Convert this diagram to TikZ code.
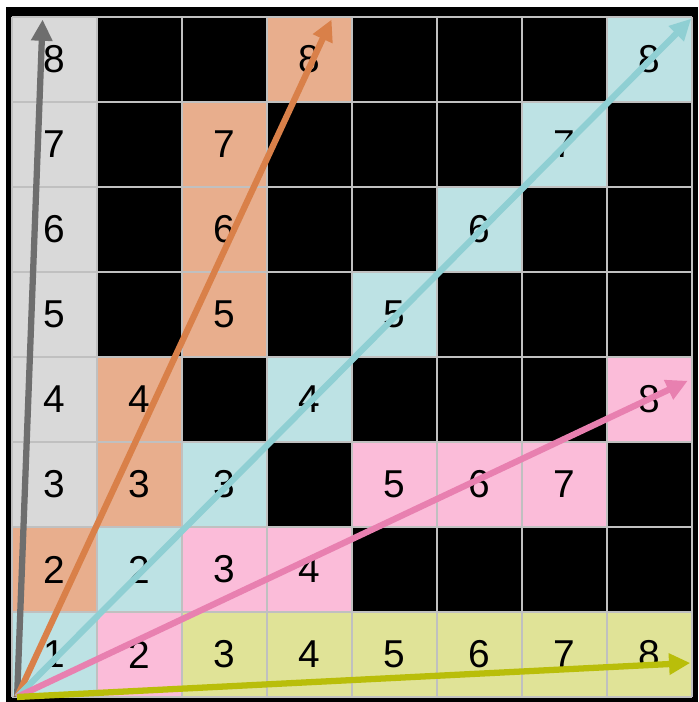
\documentclass[tikz,border=0pt]{standalone}
\usepackage{fontspec}
\setmainfont{Liberation Sans}
\usetikzlibrary{arrows.meta}

\definecolor{cellgray}{HTML}{D9D9D9}
\definecolor{cellorange}{HTML}{E8AE8D}
\definecolor{cellcyan}{HTML}{BDE2E4}
\definecolor{cellpink}{HTML}{FBBCD9}
\definecolor{cellyellow}{HTML}{E0E397}
\definecolor{arrgray}{HTML}{6E6E6E}
\definecolor{arrorange}{HTML}{D98049}
\definecolor{arrcyan}{HTML}{8FCFD3}
\definecolor{arrpink}{HTML}{E880B0}
\definecolor{arrolive}{HTML}{B9BE0A}
\definecolor{gridgray}{HTML}{C0C0C0}

\begin{document}
\begin{tikzpicture}[
    cell/.style={
        rectangle, minimum size=1cm, inner sep=0pt,
        font=\fontsize{13}{15}\selectfont, text=black
    },
    gridline/.style={draw=gridgray, line width=0.8pt},
    arr/.style={-{Triangle[length=0.25cm, width=0.24cm]}, line width=2.1pt}
]

%% ---- Frame and bounding box ----
\fill[white] (-0.141,-0.059) rectangle (8.071,8.2);
\useasboundingbox (-0.141,-0.059) rectangle (8.071,8.2);
\fill[black] (-0.071,-0.059) rectangle (8.071,8.118);

%% ---- Coloured cells at explicit (x,y) positions ----

% Gray column (x=0.5)
\node[cell, fill=cellgray]   at (0.5, 2.5) (g3) {3};
\node[cell, fill=cellgray]   at (0.5, 3.5) (g4) {4};
\node[cell, fill=cellgray]   at (0.5, 4.5) (g5) {5};
\node[cell, fill=cellgray]   at (0.5, 5.5) (g6) {6};
\node[cell, fill=cellgray]   at (0.5, 6.5) (g7) {7};
\node[cell, fill=cellgray]   at (0.5, 7.5) (g8) {8};

% Orange steps
\node[cell, fill=cellorange] at (0.5, 1.5) (o2) {2};
\node[cell, fill=cellorange] at (1.5, 2.5) (o3) {3};
\node[cell, fill=cellorange] at (1.5, 3.5) (o4) {4};
\node[cell, fill=cellorange] at (2.5, 4.5) (o5) {5};
\node[cell, fill=cellorange] at (2.5, 5.5) (o6) {6};
\node[cell, fill=cellorange] at (2.5, 6.5) (o7) {7};
\node[cell, fill=cellorange] at (3.5, 7.5) (o8) {8};

% Cyan diagonal
\node[cell, fill=cellcyan]   at (0.5, 0.5) (c1) {1};
\node[cell, fill=cellcyan]   at (1.5, 1.5) (c2) {2};
\node[cell, fill=cellcyan]   at (2.5, 2.5) (c3) {3};
\node[cell, fill=cellcyan]   at (3.5, 3.5) (c4) {4};
\node[cell, fill=cellcyan]   at (4.5, 4.5) (c5) {5};
\node[cell, fill=cellcyan]   at (5.5, 5.5) (c6) {6};
\node[cell, fill=cellcyan]   at (6.5, 6.5) (c7) {7};
\node[cell, fill=cellcyan]   at (7.5, 7.5) (c8) {8};

% Pink steps
\node[cell, fill=cellpink]   at (1.5, 0.5) (p2) {2};
\node[cell, fill=cellpink]   at (2.5, 1.5) (p3) {3};
\node[cell, fill=cellpink]   at (3.5, 1.5) (p4) {4};
\node[cell, fill=cellpink]   at (4.5, 2.5) (p5) {5};
\node[cell, fill=cellpink]   at (5.5, 2.5) (p6) {6};
\node[cell, fill=cellpink]   at (6.5, 2.5) (p7) {7};
\node[cell, fill=cellpink]   at (7.5, 3.5) (p8) {8};

% Yellow bottom row (y=0.5)
\node[cell, fill=cellyellow] at (2.5, 0.5) (y3) {3};
\node[cell, fill=cellyellow] at (3.5, 0.5) (y4) {4};
\node[cell, fill=cellyellow] at (4.5, 0.5) (y5) {5};
\node[cell, fill=cellyellow] at (5.5, 0.5) (y6) {6};
\node[cell, fill=cellyellow] at (6.5, 0.5) (y7) {7};
\node[cell, fill=cellyellow] at (7.5, 0.5) (y8) {8};

%% ---- Grid lines ----
\draw[gridline] (0,0) grid (8,8);

%% ---- Arrows ----
\coordinate (orig)      at (0.06, 0.0);
\coordinate (tipgray)   at (0.36, 7.97);
\coordinate (tiporange) at (3.76, 7.97);
\coordinate (tipcyan)   at (7.99, 7.98);
\coordinate (tippink)   at (7.95, 3.72);
\coordinate (tipolive)  at (7.98, 0.40);

% 1. Gray (nearly vertical)
\draw[arr, arrgray]   (orig) -- (tipgray);

% 2. Orange
\draw[arr, arrorange] (orig) -- (tiporange);

% 3. Cyan (diagonal)
\draw[arr, arrcyan]   (orig) -- (tipcyan);

% 4. Pink
\draw[arr, arrpink]   (orig) -- (tippink);

% 5. Olive (nearly horizontal)
\draw[arr, arrolive]  (orig) -- (tipolive);

\end{tikzpicture}
\end{document}
